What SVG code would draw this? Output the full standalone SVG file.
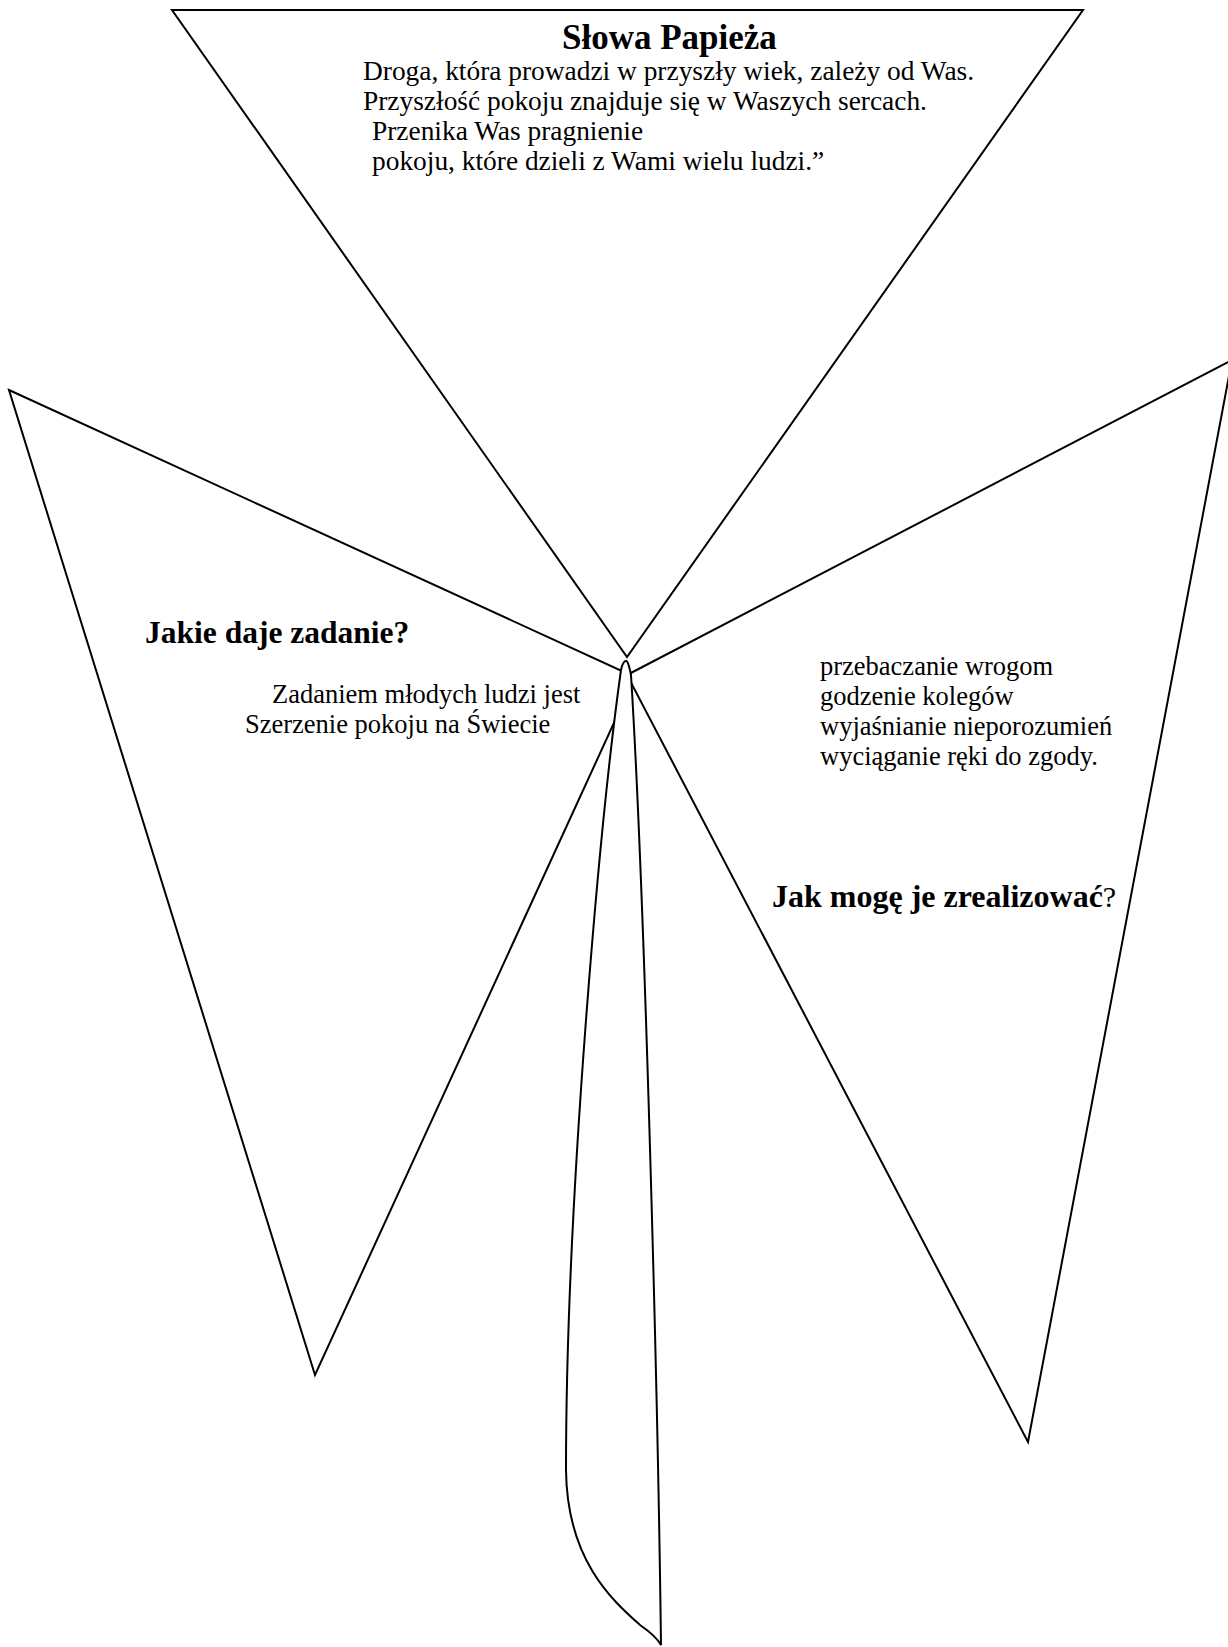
<svg xmlns="http://www.w3.org/2000/svg" width="1228" height="1647" viewBox="0 0 1228 1647">
<style>
.shape{fill:#fff;stroke:#000;stroke-width:2;stroke-linejoin:miter}
.t{font-family:"Liberation Serif","Times New Roman",serif;font-size:26.5px;fill:#000}
.tt{font-family:"Liberation Serif","Times New Roman",serif;font-size:27.4px;fill:#000}
.b{font-family:"Liberation Serif","Times New Roman",serif;font-size:32px;font-weight:bold;fill:#000}
</style>
<rect width="1228" height="1647" fill="#fff"/>
<g id="top-triangle">
<polygon class="shape" points="172,10 1083,10 627,657"/>
<text class="b" x="562" y="49" style="font-size:35px">Słowa Papieża</text>
<text class="tt" x="363" y="80">Droga, która prowadzi w przyszły wiek, zależy od Was.</text>
<text class="tt" x="363" y="110">Przyszłość pokoju znajduje się w Waszych sercach.</text>
<text class="tt" x="372" y="140">Przenika Was pragnienie</text>
<text class="tt" x="372" y="170">pokoju, które dzieli z Wami wielu ludzi.”</text>
</g>
<g id="left-triangle">
<polygon class="shape" points="9,390 635,677 315,1375"/>
<text class="b" x="145" y="643" style="font-size:31.5px">Jakie daje zadanie?</text>
<text class="t" x="272" y="703">Zadaniem młodych ludzi jest</text>
<text class="t" x="245" y="733">Szerzenie pokoju na Świecie</text>
</g>
<g id="right-triangle">
<polygon class="shape" points="627,675 1232,360 1028,1442"/>
<text class="t" x="820" y="675">przebaczanie wrogom</text>
<text class="t" x="820" y="705">godzenie kolegów</text>
<text class="t" x="820" y="735">wyjaśnianie nieporozumień</text>
<text class="t" x="820" y="765">wyciąganie ręki do zgody.</text>
<text x="772" y="907"><tspan class="b">Jak mogę je zrealizować</tspan><tspan class="t" style="font-size:30px">?</tspan></text>
</g>
<g id="connectors">
<path id="stem" class="shape" d="M661,1645 C658,1400 645,900 631,675 Q628,660 626,661 Q623,661 621,670 C600,820 566,1200 566,1470 C567,1560 612,1600 640,1625 Q656,1636 661,1645 Z"/>
</g>
</svg>
